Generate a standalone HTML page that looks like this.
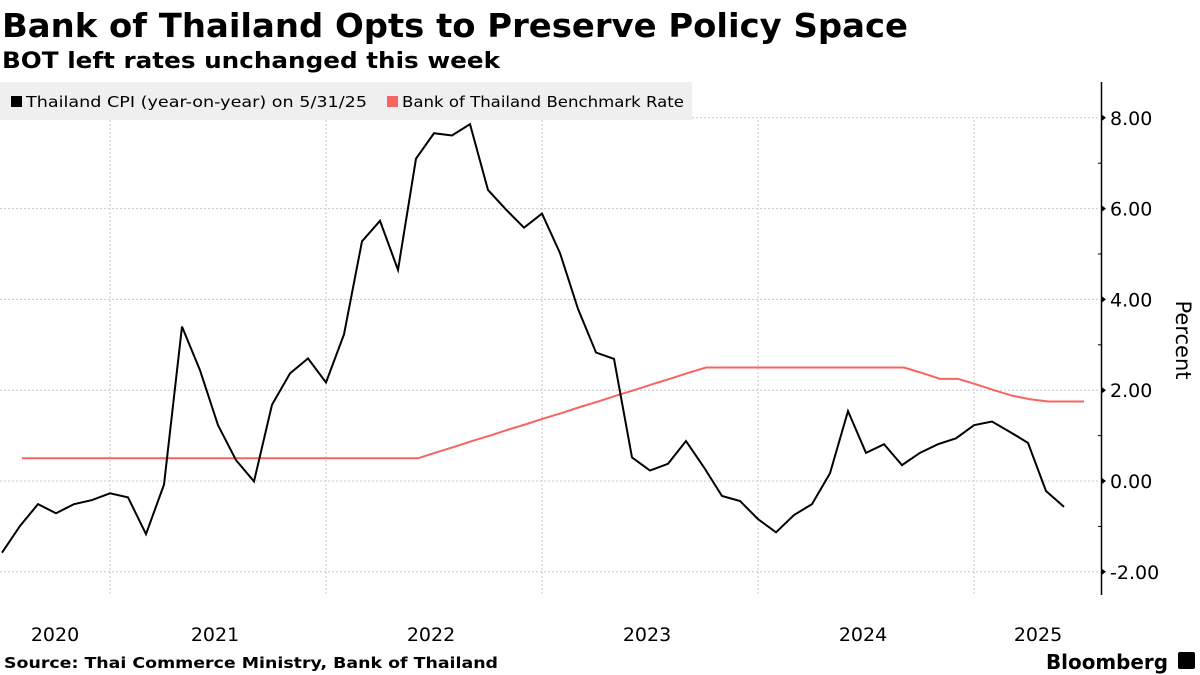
<!DOCTYPE html>
<html><head><meta charset="utf-8"><style>
html,body{margin:0;padding:0;background:#fff;width:1200px;height:675px;overflow:hidden}
svg text{font-family:"DejaVu Sans","Liberation Sans",sans-serif}
</style></head><body>
<svg id="chart" width="1200" height="675" xmlns="http://www.w3.org/2000/svg">
<text x="2" y="37" font-size="33" font-weight="bold" textLength="906" lengthAdjust="spacingAndGlyphs">Bank of Thailand Opts to Preserve Policy Space</text>
<text x="2" y="68" font-size="22" font-weight="bold" textLength="498" lengthAdjust="spacingAndGlyphs">BOT left rates unchanged this week</text>
<g id="grid"></g>
<rect x="0" y="82" width="692" height="38" fill="#efefef"/>
<g><rect x="11" y="96" width="11" height="11" fill="#000"/><text x="26" y="107" font-size="15.5" textLength="341" lengthAdjust="spacingAndGlyphs">Thailand CPI (year-on-year) on 5/31/25</text></g>
<g><rect x="387" y="96" width="11" height="11" fill="#f8645f"/><text x="402" y="107" font-size="15.5" textLength="282" lengthAdjust="spacingAndGlyphs">Bank of Thailand Benchmark Rate</text></g>
<g id="series"></g>
<g id="yaxis"></g>
<g id="xaxis"></g>
<text x="1176" y="340" font-size="21" text-anchor="middle" transform="rotate(90 1176 340)">Percent</text>
<text x="4" y="668" font-size="15" font-weight="bold" textLength="494" lengthAdjust="spacingAndGlyphs">Source: Thai Commerce Ministry, Bank of Thailand</text>
<text x="1046" y="669" font-size="20" font-weight="bold" textLength="122" lengthAdjust="spacingAndGlyphs">Bloomberg</text>
<rect x="1178" y="652" width="17" height="17" rx="2" fill="#000"/>
</svg>
<script>
// CPI monthly values, Jun 2020 .. May 2025 (month index 5 = Jun 2020, Jan 2020 = 0)
const cpiStart = 5;
const cpiValues = [-1.58,-0.99,-0.51,-0.71,-0.51,-0.42,-0.27,
 -0.36,-1.17,-0.08,3.40,2.44,1.23,0.46,-0.01,1.68,2.37,2.70,2.17,
 3.23,5.28,5.73,4.65,7.10,7.66,7.61,7.86,6.41,5.98,5.58,5.89,
 5.02,3.79,2.83,2.69,0.52,0.23,0.38,0.88,0.30,-0.33,-0.44,-0.84,
 -1.13,-0.75,-0.51,0.17,1.54,0.62,0.81,0.35,0.62,0.81,0.94,1.23,
 1.31,1.08,0.84,-0.22,-0.57];
// Policy rate by month, Aug 2020 (index 7) onward
const rateStart = 7;
const rateValues = [0.5,0.5,0.5,0.5,0.5,0.5,0.5,0.5,0.5,0.5,0.5,0.5,0.5,0.5,0.5,0.5,0.5,0.5,0.5,0.5,0.5,0.5,0.5,
 0.63,0.75,0.88,1.0,1.13,1.25,1.38,1.5,1.63,1.75,1.88,2.0,2.13,2.25,2.38,2.5,
 2.5,2.5,2.5,2.5,2.5,2.5,2.5,2.5,2.5,2.5,2.5,2.38,2.25,2.25,2.13,2.0,1.88,1.8,1.75,1.75,1.75];
const yTicks = [-2,0,2,4,6,8];
const yTickLabels = ["-2.00","0.00","2.00","4.00","6.00","8.00"];
const years = ["2020","2021","2022","2023","2024","2025"];

const NS="http://www.w3.org/2000/svg";
const xEnd = m => -106 + 18*m;           // month-end position
const xStartM = m => -104 + 18*m;         // for rate series
const y = v => 481 - v*45.4;
function mk(tag, attrs, parent){const e=document.createElementNS(NS,tag);for(const k in attrs)e.setAttribute(k,attrs[k]);parent.appendChild(e);return e;}
const grid=document.getElementById('grid'), ser=document.getElementById('series'), ya=document.getElementById('yaxis'), xa=document.getElementById('xaxis');

yTicks.forEach((t,i)=>{
  const gl=mk('line',{x1:0,x2:1100,y1:y(t),y2:y(t),stroke:'#c8c8c8','stroke-dasharray':'2,2'},grid);
  
  
  const tk=mk('path',{d:`M1102 ${y(t)-3} L1106 ${y(t)} L1102 ${y(t)+3}Z`,fill:'#000'},ya);
  
  
  const lb=mk('text',{x:1110,y:y(t)+7,'font-size':19},ya);
  lb.textContent=yTickLabels[i];
  
  
  if(i<yTicks.length-1){const mt=mk('line',{x1:1098,x2:1102,y1:y(t+1),y2:y(t+1),stroke:'#000'},ya);
  
  }
});
const ax=mk('line',{x1:1101.5,x2:1101.5,y1:82,y2:595,stroke:'#000','stroke-width':1.5},ya);



years.forEach((yr,i)=>{
  const m=i*12;
  if(i>0){const gl=mk('line',{x1:xEnd(m),x2:xEnd(m),y1:120,y2:595,stroke:'#c8c8c8','stroke-dasharray':'2,2'},grid);
  
  }
  const lb=mk('text',{x:Math.max(xEnd(m+6)-3,55),y:641,'font-size':19,'text-anchor':'middle'},xa);
  if(i===5) lb.setAttribute('x', 1038);
  lb.textContent=yr;
  
  
});

const rp=mk('polyline',{points:rateValues.map((v,i)=>`${xStartM(rateStart+i)},${y(v)}`).join(' '),fill:'none',stroke:'#f8645f','stroke-width':2},ser);


const cp=mk('polyline',{points:cpiValues.map((v,i)=>`${xEnd(cpiStart+i+1)},${y(v)}`).join(' '),fill:'none',stroke:'#000','stroke-width':2,'stroke-linejoin':'miter'},ser);


</script>
</body></html>
